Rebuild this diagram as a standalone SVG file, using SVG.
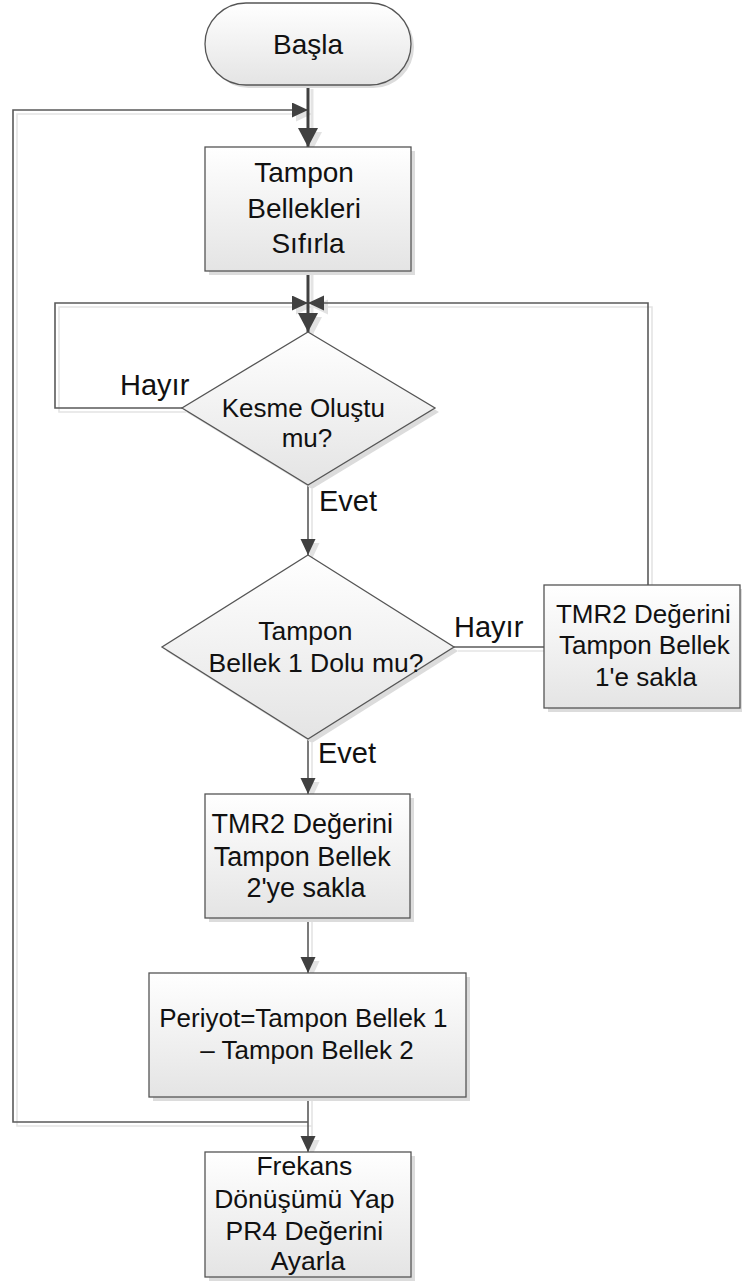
<svg xmlns="http://www.w3.org/2000/svg" width="742" height="1281" viewBox="0 0 742 1281">
  <defs>
    <linearGradient id="fill" x1="0" y1="0" x2="0" y2="1">
      <stop offset="0" stop-color="#ffffff"/>
      <stop offset="1" stop-color="#e4e4e4"/>
    </linearGradient>
    <marker id="head-lg" markerUnits="userSpaceOnUse" markerWidth="20" markerHeight="20" refX="19" refY="10" orient="auto">
      <path d="M0,0 L19,10 L0,20 Z" fill="#404040"/>
    </marker>
    <marker id="head-sm" markerUnits="userSpaceOnUse" markerWidth="17" markerHeight="16" refX="16" refY="7.5" orient="auto">
      <path d="M0,0 L16,7.5 L0,15 Z" fill="#404040"/>
    </marker>
    <marker id="head-lg-sh" markerUnits="userSpaceOnUse" markerWidth="20" markerHeight="20" refX="19" refY="10" orient="auto">
      <path d="M0,0 L19,10 L0,20 Z" fill="#e2e2e2"/>
    </marker>
    <marker id="head-sm-sh" markerUnits="userSpaceOnUse" markerWidth="17" markerHeight="16" refX="16" refY="7.5" orient="auto">
      <path d="M0,0 L16,7.5 L0,15 Z" fill="#e2e2e2"/>
    </marker>
  </defs>
  <style>
    .shape { fill: url(#fill); stroke: #555555; stroke-width: 1.3; }
    .shadow { fill: #dcdcdc; stroke: none; }
    .lbl { font-family: "Liberation Sans", Arial, sans-serif; fill: #111111; }
    .mid { text-anchor: middle; }
    .wire { fill: none; stroke: #5a5a5a; stroke-width: 1.6; }
    .wire-thick { fill: none; stroke: #404040; stroke-width: 3; }
    .wire-sh { fill: none; stroke: #e4e4e4; stroke-width: 1.6; }
    .wire-thick-sh { fill: none; stroke: #e4e4e4; stroke-width: 3; }
  </style>

  <rect width="742" height="1281" fill="#ffffff"/>

  <!-- connector shadows -->
  <g id="connector-shadows" transform="translate(4,4)">
    <path class="wire-thick-sh" d="M308,85 V147" marker-end="url(#head-lg-sh)"/>
    <path class="wire-thick-sh" d="M308,271 V332" marker-end="url(#head-lg-sh)"/>
    <path class="wire-sh" d="M308,1122 H13 V110 H308" marker-end="url(#head-sm-sh)"/>
    <path class="wire-sh" d="M182,408 H55 V303 H308" marker-end="url(#head-sm-sh)"/>
    <path class="wire-sh" d="M648,585 V303 H308" marker-end="url(#head-sm-sh)"/>
    <path class="wire-sh" d="M308,485 V555" marker-end="url(#head-sm-sh)"/>
    <path class="wire-sh" d="M454,647 H544"/>
    <path class="wire-sh" d="M308,739 V794" marker-end="url(#head-sm-sh)"/>
    <path class="wire-sh" d="M308,918 V973" marker-end="url(#head-sm-sh)"/>
    <path class="wire-sh" d="M308,1097 V1152" marker-end="url(#head-sm-sh)"/>
  </g>

  <!-- connectors -->
  <g id="connectors">
    <path class="wire" d="M308,1122 H13 V110 H308" marker-end="url(#head-sm)"/>
    <path class="wire" d="M182,408 H55 V303 H308" marker-end="url(#head-sm)"/>
    <path class="wire" d="M648,585 V303 H308" marker-end="url(#head-sm)"/>
    <path class="wire" d="M308,485 V555" marker-end="url(#head-sm)"/>
    <path class="wire" d="M454,647 H544"/>
    <path class="wire" d="M308,739 V794" marker-end="url(#head-sm)"/>
    <path class="wire" d="M308,918 V973" marker-end="url(#head-sm)"/>
    <path class="wire" d="M308,1097 V1152" marker-end="url(#head-sm)"/>
    <path class="wire-thick" d="M308,85 V147" marker-end="url(#head-lg)"/>
    <path class="wire-thick" d="M308,271 V332" marker-end="url(#head-lg)"/>
  </g>

  <!-- start terminal -->
  <g id="start">
    <rect class="shadow" x="208" y="6" width="206" height="82" rx="41"/>
    <rect class="shape" x="205" y="3" width="206" height="82" rx="41"/>
    <text class="lbl mid" x="308" y="54" font-size="28">Başla</text>
  </g>

  <!-- reset buffers -->
  <g id="reset-buffers">
    <rect class="shadow" x="209" y="151" width="206" height="124"/>
    <rect class="shape" x="205" y="147" width="206" height="124"/>
    <text class="lbl mid" font-size="28">
      <tspan x="308" y="182">Tampon</tspan>
      <tspan x="308" y="218">Bellekleri</tspan>
      <tspan x="308" y="253">Sıfırla</tspan>
    </text>
  </g>

  <!-- interrupt check -->
  <g id="interrupt-check">
    <polygon class="shadow" points="312,336 439,412 312,489 186,412" fill="#e8e8e8"/>
    <polygon class="shape" points="308,332 435,408 308,485 182,408"/>
    <text class="lbl mid" font-size="26">
      <tspan x="307" y="417">Kesme Oluştu</tspan>
      <tspan x="307" y="447">mu?</tspan>
    </text>
  </g>

  <!-- buffer 1 full check -->
  <g id="buffer1-check">
    <polygon class="shadow" points="312,559 458,651 312,743 166,651"/>
    <polygon class="shape" points="308,555 454,647 308,739 162,647"/>
    <text class="lbl mid" font-size="26.5">
      <tspan x="309" y="640">Tampon</tspan>
      <tspan x="316" y="672">Bellek 1 Dolu mu?</tspan>
    </text>
  </g>

  <!-- store to buffer 1 -->
  <g id="store-buffer1">
    <rect class="shadow" x="548" y="589" width="196" height="123"/>
    <rect class="shape" x="544" y="585" width="196" height="123"/>
    <text class="lbl mid" font-size="26">
      <tspan x="647" y="623">TMR2 Değerini</tspan>
      <tspan x="648" y="654">Tampon Bellek</tspan>
      <tspan x="646" y="686">1'e sakla</tspan>
    </text>
  </g>

  <!-- store to buffer 2 -->
  <g id="store-buffer2">
    <rect class="shadow" x="209" y="798" width="205" height="124"/>
    <rect class="shape" x="205" y="794" width="205" height="124"/>
    <text class="lbl mid" font-size="27">
      <tspan x="306" y="833">TMR2 Değerini</tspan>
      <tspan x="306" y="866">Tampon Bellek</tspan>
      <tspan x="306" y="897">2'ye sakla</tspan>
    </text>
  </g>

  <!-- period calculation -->
  <g id="period">
    <rect class="shadow" x="153" y="977" width="317" height="124"/>
    <rect class="shape" x="149" y="973" width="317" height="124"/>
    <text class="lbl mid" font-size="26">
      <tspan x="307" y="1027">Periyot=Tampon Bellek 1</tspan>
      <tspan x="307" y="1059">– Tampon Bellek 2</tspan>
    </text>
  </g>

  <!-- frequency conversion -->
  <g id="frequency">
    <rect class="shadow" x="209" y="1156" width="206" height="125"/>
    <rect class="shape" x="205" y="1152" width="206" height="125"/>
    <text class="lbl mid" font-size="26.5">
      <tspan x="308" y="1175">Frekans</tspan>
      <tspan x="308" y="1208">Dönüşümü Yap</tspan>
      <tspan x="308" y="1240">PR4 Değerini</tspan>
      <tspan x="308" y="1270">Ayarla</tspan>
    </text>
  </g>

  <!-- branch labels -->
  <g id="labels" class="lbl" font-size="29">
    <text x="120" y="395">Hayır</text>
    <text x="319" y="511">Evet</text>
    <text x="454" y="637">Hayır</text>
    <text x="318" y="763">Evet</text>
  </g>
</svg>
